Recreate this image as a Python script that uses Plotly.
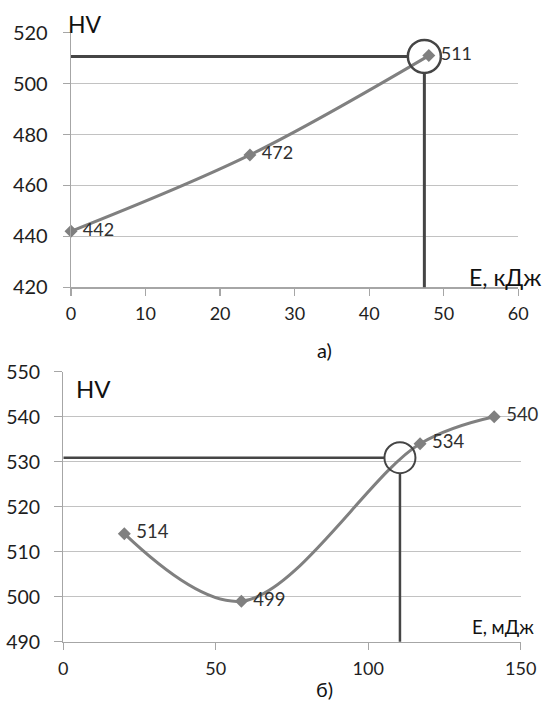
import plotly.graph_objects as go

# ---- data: chart a) ----
a_energy = [0, 24, 48]          # E, кДж
a_hv = [442, 472, 511]
a_mark_x = 47.4                 # reference point marked with circle
a_mark_y = 510.7

# ---- data: chart б) ----
b_energy = [20, 58.4, 117, 141.3]   # E, мДж
b_hv = [514, 499, 534, 540]
b_mark_x = 110.4
b_mark_y = 530.9

# axis ticks
a_xticks = [0, 10, 20, 30, 40, 50, 60]
a_yticks = [420, 440, 460, 480, 500, 520]
b_xticks = [0, 50, 100, 150]
b_yticks = [490, 500, 510, 520, 530, 540, 550]

FONT = "Lato"
SERIES = "#808080"
REF = "#454545"
GRID = "#c2c2c2"
AXIS = "#a6a6a6"
TXT = "#1e1e1e"
LBL = "#303030"

W, H = 545, 704
# plot-area pixel boxes (left, right, top, bottom)
A_BOX = (71, 518.3, 32.7, 287.3)
B_BOX = (63.3, 520.7, 371.7, 641.7)


def dom(box):
    xl, xr, yt, yb = box
    return [xl / W, xr / W], [(H - yb) / H, (H - yt) / H]


ax_dom, ay_dom = dom(A_BOX)
bx_dom, by_dom = dom(B_BOX)

fig = go.Figure()

fig.add_trace(go.Scatter(
    x=a_energy, y=a_hv, mode="lines+markers+text",
    line=dict(color=SERIES, width=3, shape="spline", smoothing=1),
    marker=dict(symbol="diamond", size=10, color=SERIES),
    text=[f" {v}" for v in a_hv], textposition="middle right",
    textfont=dict(family=FONT, size=18, color=LBL),
    xaxis="x", yaxis="y", showlegend=False, cliponaxis=False,
    hoverinfo="skip"))

fig.add_trace(go.Scatter(
    x=b_energy, y=b_hv, mode="lines+markers+text",
    line=dict(color=SERIES, width=3, shape="spline", smoothing=1),
    marker=dict(symbol="diamond", size=10, color=SERIES),
    text=[f" {v}" for v in b_hv], textposition="middle right",
    textfont=dict(family=FONT, size=18.5, color=LBL),
    xaxis="x2", yaxis="y2", showlegend=False, cliponaxis=False,
    hoverinfo="skip"))

# pixels per data unit (to stop reference lines at the circle edge)
a_xpx = (A_BOX[1] - A_BOX[0]) / 60.0
a_ypx = (A_BOX[3] - A_BOX[2]) / 100.0
b_xpx = (B_BOX[1] - B_BOX[0]) / 150.0
b_ypx = (B_BOX[3] - B_BOX[2]) / 60.0
a_r = 16.5
b_r = 15.5

shapes = [
    dict(type="line", xref="x", yref="y", x0=0, x1=a_mark_x - a_r / a_xpx,
         y0=a_mark_y, y1=a_mark_y, line=dict(color=REF, width=3)),
    dict(type="line", xref="x", yref="y", x0=a_mark_x, x1=a_mark_x,
         y0=419.3, y1=a_mark_y - a_r / a_ypx, line=dict(color=REF, width=3)),
    dict(type="circle", xref="x", yref="y", xsizemode="pixel", ysizemode="pixel",
         xanchor=a_mark_x, yanchor=a_mark_y, x0=-a_r, x1=a_r, y0=-a_r, y1=a_r,
         line=dict(color=REF, width=2.5)),
    dict(type="line", xref="x2", yref="y2", x0=0, x1=b_mark_x - b_r / b_xpx,
         y0=b_mark_y, y1=b_mark_y, line=dict(color=REF, width=2.5)),
    dict(type="line", xref="x2", yref="y2", x0=b_mark_x, x1=b_mark_x,
         y0=489.7, y1=b_mark_y - b_r / b_ypx, line=dict(color=REF, width=2.5)),
    dict(type="circle", xref="x2", yref="y2", xsizemode="pixel", ysizemode="pixel",
         xanchor=b_mark_x, yanchor=b_mark_y, x0=-b_r, x1=b_r, y0=-b_r, y1=b_r,
         line=dict(color=REF, width=2)),
]

base = dict(zeroline=False, showline=True, linecolor=AXIS, linewidth=1.3,
            ticks="outside", tickcolor=AXIS, tickwidth=1.3, automargin=False)

fig.update_layout(
    width=W, height=H, margin=dict(l=0, r=0, t=0, b=0),
    paper_bgcolor="white", plot_bgcolor="white", hovermode=False,
    xaxis=dict(domain=ax_dom, range=[0, 60], tickvals=a_xticks, anchor="y",
               showgrid=False, ticklen=7, ticklabelstandoff=3,
               tickfont=dict(family=FONT, size=18, color=TXT), **base),
    yaxis=dict(domain=ay_dom, range=[420, 520], tickvals=a_yticks, anchor="x",
               showgrid=True, gridcolor=GRID, gridwidth=1.3, ticklen=7,
               ticklabelstandoff=11,
               tickfont=dict(family=FONT, size=20, color=TXT), **base),
    xaxis2=dict(domain=bx_dom, range=[0, 150], tickvals=b_xticks, anchor="y2",
                showgrid=False, ticklen=7, ticklabelstandoff=3,
                tickfont=dict(family=FONT, size=18, color=TXT), **base),
    yaxis2=dict(domain=by_dom, range=[490, 550], tickvals=b_yticks, anchor="x2",
                showgrid=True, gridcolor=GRID, gridwidth=1.3, ticklen=8,
                ticklabelstandoff=10,
                tickfont=dict(family=FONT, size=19.5, color=TXT), **base),
    shapes=shapes,
    annotations=[
        dict(text="HV", xref="paper", yref="paper", x=66 / W, y=(H - 24) / H,
             xanchor="left", yanchor="middle", showarrow=False,
             font=dict(family=FONT, size=23, color="#111111")),
        dict(text="E, кДж", xref="paper", yref="paper", x=467 / W, y=(H - 277) / H,
             xanchor="left", yanchor="middle", showarrow=False,
             font=dict(family=FONT, size=23, color="#111111")),
        dict(text="а)", xref="paper", yref="paper", x=324 / W, y=(H - 350) / H,
             xanchor="center", yanchor="middle", showarrow=False,
             font=dict(family=FONT, size=20, color="#111111")),
        dict(text="HV", xref="paper", yref="paper", x=74 / W, y=(H - 389) / H,
             xanchor="left", yanchor="middle", showarrow=False,
             font=dict(family=FONT, size=24, color="#111111")),
        dict(text="E, мДж", xref="paper", yref="paper", x=470 / W, y=(H - 627) / H,
             xanchor="left", yanchor="middle", showarrow=False,
             font=dict(family=FONT, size=18.5, color="#111111")),
        dict(text="б)", xref="paper", yref="paper", x=324 / W, y=(H - 689) / H,
             xanchor="center", yanchor="middle", showarrow=False,
             font=dict(family=FONT, size=20, color="#111111")),
    ],
)

fig.write_html("out.html", config={"displayModeBar": False, "staticPlot": True},
               post_script="document.body.style.margin='0px';")
